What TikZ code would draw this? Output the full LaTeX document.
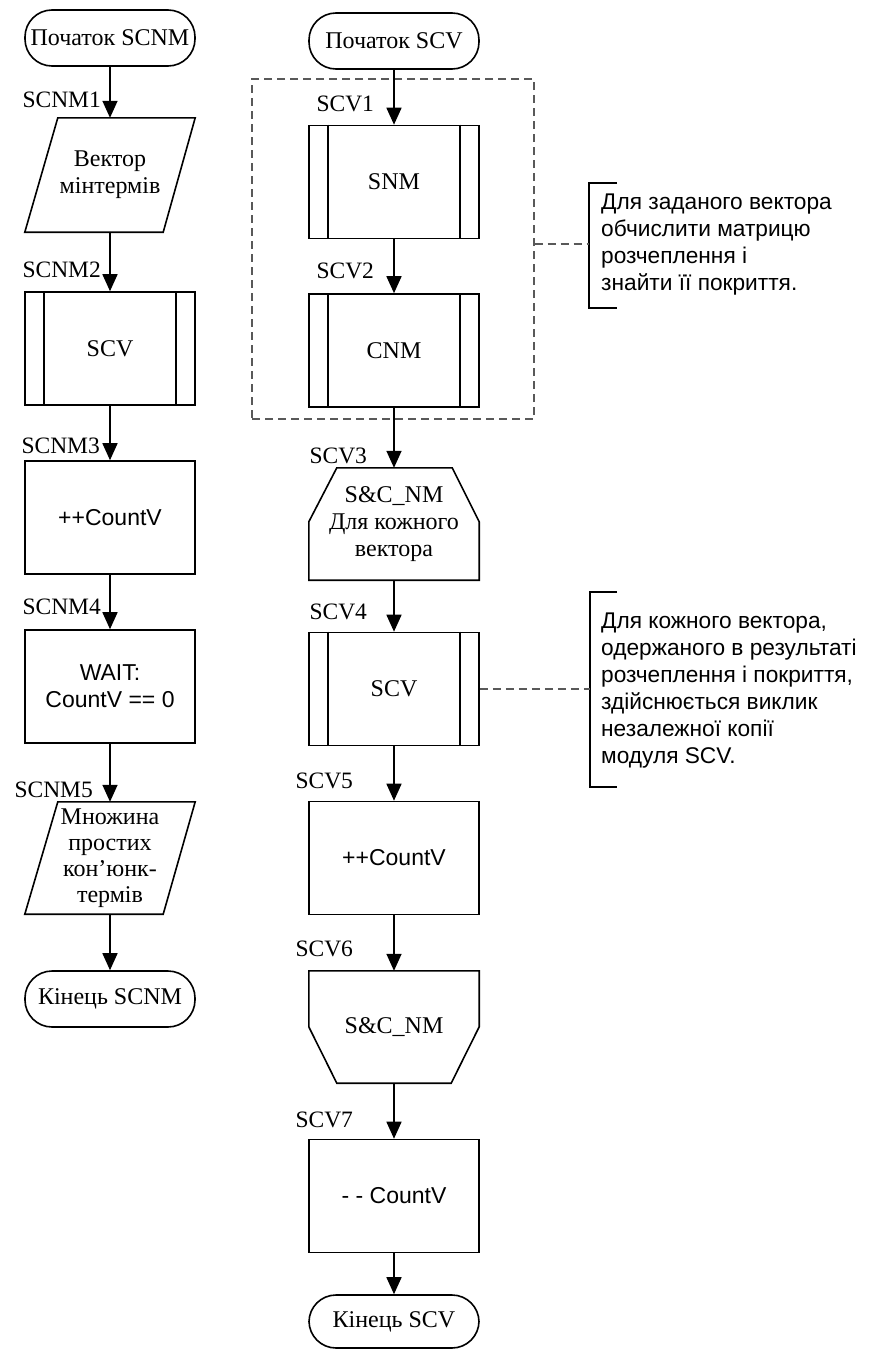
\documentclass[tikz,border=0pt]{standalone}
\usepackage{fontspec}
\setmainfont{Liberation Serif}
\newfontfamily\annsans{Liberation Sans}
\usetikzlibrary{arrows.meta,calc}
\begin{document}
\begin{tikzpicture}[x=1pt,y=-1pt,
 every node/.style={font=\fontsize{24}{27}\selectfont},
 ln/.style={line width=1.6pt},
 flow/.style={ln, -{Triangle[length=17pt,width=15pt]}},
 term/.style={draw, ln, rounded corners=27pt, minimum width=170pt, minimum height=56pt, inner sep=0pt},
 box/.style={draw, ln, minimum width=170pt, minimum height=113pt, inner sep=0pt, align=center},
 shp/.style={minimum width=170pt, minimum height=113pt, inner sep=0pt, align=center},
 lbl/.style={anchor=base west, font=\fontsize{23.5}{26}\selectfont},
 sans/.style={font=\annsans\fontsize{23}{27}\selectfont},
 grp/.style={draw=black!65, line width=1.2pt, dash pattern=on 8pt off 5pt},
 ann/.style={anchor=west, align=left, font=\annsans\fontsize{22.7}{27}\selectfont, inner sep=0pt},
]
\useasboundingbox (0,0) rectangle (874,1349);

% ---------- left column ----------
\node[term] (s0) at (110,38) {Початок SCNM};
\node[shp, minimum height=114pt] (s1) at (110,175) {Вектор\\мінтермів};
\draw[ln] ($(s1.north west)+(33,0)$) -- (s1.north east) -- ($(s1.south east)+(-32,0)$) -- (s1.south west) -- cycle;
\node[box] (s2) at (110,348.5) {SCV};
\draw[ln] ($(s2.north west)+(20,0)$) -- ($(s2.south west)+(20,0)$);
\draw[ln] ($(s2.north east)+(-20,0)$) -- ($(s2.south east)+(-20,0)$);
\node[box,sans] (s3) at (110,517.5) {++CountV};
\node[box,sans] (s4) at (110,686.5) {WAIT:\\CountV == 0};
\node[shp, minimum height=112pt, font=\fontsize{24}{26}\selectfont] (s5) at (110,858) {Множина\\простих\\кон’юнк-\\термів};
\draw[ln] ($(s5.north west)+(33,0)$) -- (s5.north east) -- ($(s5.south east)+(-32,0)$) -- (s5.south west) -- cycle;
\node[term] (s6) at (110,999) {Кінець SCNM};

\draw[flow] (s0) -- (s1);
\draw[flow] (s1) -- (s2);
\draw[flow] (s2) -- (s3);
\draw[flow] (s3) -- (s4);
\draw[flow] (s4) -- (s5);
\draw[flow] (s5) -- (s6);

\node[lbl] (ls1) at (19,107) {SCNM1};
\node[lbl] (ls2) at (19,277) {SCNM2};
\node[lbl] (ls3) at (18,453) {SCNM3};
\node[lbl] (ls4) at (19,614) {SCNM4};
\node[lbl] (ls5) at (11,797) {SCNM5};

% ---------- right column ----------
\node[term] (v0) at (394,41) {Початок SCV};
\node[grp, minimum width=282pt, minimum height=340pt] (g) at (393,249) {};
\node[box] (v1) at (394,182) {SNM};
\draw[ln] ($(v1.north west)+(20,0)$) -- ($(v1.south west)+(20,0)$);
\draw[ln] ($(v1.north east)+(-20,0)$) -- ($(v1.south east)+(-20,0)$);
\node[box] (v2) at (394,350.5) {CNM};
\draw[ln] ($(v2.north west)+(20,0)$) -- ($(v2.south west)+(20,0)$);
\draw[ln] ($(v2.north east)+(-20,0)$) -- ($(v2.south east)+(-20,0)$);
\node[shp, minimum height=112pt, font=\fontsize{24}{27}\selectfont] (v3) at (394,524) {S\&C\_NM\\Для кожного\\вектора};
\draw[ln] (v3.south west) -- ($(v3.north west)+(0,54)$) -- ($(v3.north west)+(28,0)$) -- ($(v3.north east)+(-27,0)$) -- ($(v3.north east)+(0,54)$) -- (v3.south east) -- cycle;
\node[box] (v4) at (394,689) {SCV};
\draw[ln] ($(v4.north west)+(20,0)$) -- ($(v4.south west)+(20,0)$);
\draw[ln] ($(v4.north east)+(-20,0)$) -- ($(v4.south east)+(-20,0)$);
\node[box,sans] (v5) at (394,858) {++CountV};
\node[shp, minimum height=112pt] (v6) at (394,1027) {S\&C\_NM};
\draw[ln] (v6.north west) -- (v6.north east) -- ($(v6.north east)+(0,56)$) -- ($(v6.south east)+(-28,0)$) -- ($(v6.south west)+(28,0)$) -- ($(v6.north west)+(0,56)$) -- cycle;
\node[box,sans] (v7) at (394,1196) {- - CountV};
\node[term, minimum height=53pt] (v8) at (394,1321.5) {Кінець SCV};

\draw[flow] (v0) -- (v1);
\draw[flow] (v1) -- (v2);
\draw[flow] (v2) -- (v3);
\draw[flow] (v3) -- (v4);
\draw[flow] (v4) -- (v5);
\draw[flow] (v5) -- (v6);
\draw[flow] (v6) -- (v7);
\draw[flow] (v7) -- (v8);

\node[lbl] (lv1) at (313,111) {SCV1};
\node[lbl] (lv2) at (313,278) {SCV2};
\node[lbl] (lv3) at (306,463) {SCV3};
\node[lbl] (lv4) at (306,619) {SCV4};
\node[lbl] (lv5) at (292,788) {SCV5};
\node[lbl] (lv6) at (292,956) {SCV6};
\node[lbl] (lv7) at (292,1127) {SCV7};

% ---------- annotations ----------
\coordinate (b1) at (589,244);
\coordinate (b1t) at (617,183);
\coordinate (b1b) at (617,308);
\draw[ln] (b1t) -- (b1 |- b1t) -- (b1 |- b1b) -- (b1b);
\draw[grp] (g.east |- b1) -- (b1);
\node[ann] (a1) at (601,245) {Для заданого вектора\\обчислити матрицю\\розчеплення і\\знайти її покриття.};

\coordinate (b2) at (590,689);
\coordinate (b2t) at (617,592);
\coordinate (b2b) at (617,787);
\draw[ln] (b2t) -- (b2 |- b2t) -- (b2 |- b2b) -- (b2b);
\draw[grp] (v4.east) -- (b2);
\node[ann] (a2) at (601,691) {Для кожного вектора,\\одержаного в результаті\\розчеплення і покриття,\\здійснюється виклик\\незалежної копії\\модуля SCV.};
\end{tikzpicture}
\end{document}
